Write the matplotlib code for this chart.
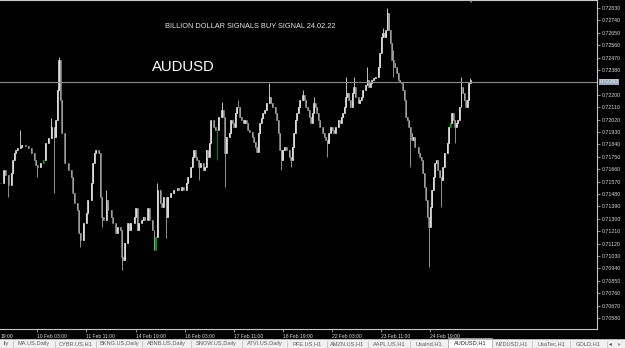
import matplotlib
matplotlib.use("Agg")
import matplotlib.pyplot as plt
from matplotlib.patches import Rectangle

# chart texts
symbol = "AUDUSD"
headline = "BILLION DOLLAR SIGNALS BUY SIGNAL 24.02.22"
last_price = 0.72293

# H1 bars: bar number (hours from first visible bar) and close
bar_hours = [
    0, 2, 3, 5, 7, 8, 9, 10, 11, 13, 14, 16, 18, 20, 22, 23, 24, 26, 28, 29,
    31, 33, 35, 36, 37, 38, 39, 40, 42, 44, 46, 47, 48, 50, 51, 52, 54, 56, 57, 59,
    60, 61, 62, 64, 65, 66, 67, 69, 70, 72, 73, 75, 76, 78, 79, 80, 81, 83, 84, 85,
    87, 88, 89, 90, 92, 93, 94, 96, 97, 99, 100, 101, 102, 104, 105, 106, 108, 109, 111, 113,
    115, 116, 118, 119, 121, 122, 124, 125, 126, 127, 128, 129, 130, 132, 133, 134, 135, 136, 137, 139,
    140, 141, 142, 144, 145, 146, 147, 149, 150, 151, 152, 153, 154, 155, 156, 157, 158, 159, 160, 161,
    162, 164, 165, 166, 167, 168, 169, 170, 171, 172, 173, 175, 176, 177, 178, 179, 180, 181, 182, 183,
    184, 185, 186, 188, 189, 190, 191, 192, 193, 194, 195, 197, 198, 199, 200, 201, 202, 203, 204, 205,
    206, 207, 208, 210, 211, 212, 213, 214, 215, 216, 217, 218, 220, 221, 222, 223, 224, 225, 226, 227,
    228, 229, 230, 231, 233, 234, 235, 236, 238, 239, 240, 241, 242, 243, 244, 246, 247, 248, 249, 250,
    251, 252, 253, 254, 255, 256, 257, 258, 259, 260, 261, 262, 263, 264, 265, 266, 267, 268, 269, 270,
    272, 273, 274, 275, 276, 277, 278, 279, 280, 281, 282, 283, 284, 285, 286, 287, 288, 289, 291, 292,
    293, 294, 295, 296, 297, 298, 299, 300, 301, 302, 303, 304, 305, 306,
]
closes = [
    0.71560, 0.71654, 0.71618, 0.71545, 0.71632, 0.71727, 0.71778, 0.71799, 0.71814, 0.71821,
    0.71836, 0.71828, 0.71814, 0.71778, 0.71727, 0.71690, 0.71676, 0.71705, 0.71727, 0.71850,
    0.71886, 0.71966, 0.71894, 0.72017, 0.72235, 0.72453, 0.72162, 0.71923, 0.71705, 0.71654,
    0.71603, 0.71487, 0.71415, 0.71364, 0.71197, 0.71146, 0.71269, 0.71342, 0.71436, 0.71560,
    0.71705, 0.71778, 0.71799, 0.71778, 0.71458, 0.71313, 0.71291, 0.71436, 0.71364, 0.71313,
    0.71269, 0.71197, 0.71240, 0.71219, 0.71023, 0.71001, 0.71124, 0.71269, 0.71219, 0.71269,
    0.71313, 0.71378, 0.71219, 0.71269, 0.71291, 0.71313, 0.71291, 0.71378, 0.71291, 0.71219,
    0.71073, 0.71168, 0.71509, 0.71415, 0.71386, 0.71458, 0.71313, 0.71458, 0.71487, 0.71509,
    0.71524, 0.71509, 0.71531, 0.71509, 0.71560, 0.71603, 0.71676, 0.71749, 0.71799, 0.71749,
    0.71727, 0.71676, 0.71705, 0.71654, 0.71676, 0.71799, 0.71749, 0.71850, 0.72017, 0.71966,
    0.71944, 0.71944, 0.72039, 0.72090, 0.72039, 0.71778, 0.71894, 0.71923, 0.72017, 0.71995,
    0.71966, 0.72068, 0.72111, 0.72111, 0.72039, 0.72017, 0.71995, 0.72017, 0.71995, 0.71944,
    0.71930, 0.71894, 0.71857, 0.71821, 0.71785, 0.71923, 0.71995, 0.72032, 0.72068, 0.72090,
    0.72140, 0.72184, 0.72140, 0.72111, 0.72111, 0.72068, 0.72017, 0.71923, 0.71799, 0.71727,
    0.71799, 0.71821, 0.71799, 0.71749, 0.71727, 0.71821, 0.71923, 0.72017, 0.72068, 0.72111,
    0.72162, 0.72199, 0.72162, 0.72111, 0.72090, 0.72039, 0.71995, 0.72068, 0.72140, 0.72111,
    0.72068, 0.72017, 0.71966, 0.71923, 0.71894, 0.71872, 0.71850, 0.71923, 0.71966, 0.71944,
    0.71923, 0.71966, 0.72017, 0.71995, 0.72039, 0.72068, 0.72111, 0.72184, 0.72213, 0.72162,
    0.72111, 0.72213, 0.72257, 0.72184, 0.72140, 0.72162, 0.72184, 0.72235, 0.72271, 0.72307,
    0.72257, 0.72286, 0.72307, 0.72322, 0.72329, 0.72402, 0.72503, 0.72619, 0.72648, 0.72619,
    0.72670, 0.72794, 0.72670, 0.72576, 0.72453, 0.72431, 0.72402, 0.72358, 0.72307, 0.72293,
    0.72286, 0.72235, 0.72162, 0.72039, 0.72017, 0.71966, 0.71923, 0.71872, 0.71894, 0.71821,
    0.71778, 0.71749, 0.71727, 0.71632, 0.71531, 0.71436, 0.71313, 0.71240, 0.71386, 0.71509,
    0.71603, 0.71705, 0.71727, 0.71654, 0.71603, 0.71582, 0.71676, 0.71778, 0.71850, 0.71966,
    0.71995, 0.72068, 0.72017, 0.71966, 0.71995, 0.72017, 0.72111, 0.72257, 0.72213, 0.72162,
    0.72111, 0.72162, 0.72286, 0.72307,
]

# longer wicks that stick out of the bodies (bar index -> price)
wick_high = {9: 0.71944, 21: 0.72032, 25: 0.72474, 47: 0.71509, 72: 0.71560, 103: 0.72148,
             113: 0.72162, 131: 0.72286, 151: 0.72235, 158: 0.72184, 177: 0.72329, 182: 0.72329,
             189: 0.72402, 198: 0.72685, 201: 0.72830, 205: 0.72525, 247: 0.72329, 253: 0.72322}
wick_low = {3: 0.71458, 16: 0.71603, 22: 0.71487, 35: 0.71095, 45: 0.71240, 54: 0.70928,
            76: 0.71161, 91: 0.71582, 101: 0.71727, 105: 0.71531, 139: 0.71654, 144: 0.71676,
            166: 0.71749, 205: 0.72329, 216: 0.71676, 227: 0.70950, 235: 0.71386, 243: 0.71850}
green_bars = [18, 71, 101, 240]

price_levels = [0.72830, 0.72740, 0.72650, 0.72560, 0.72470, 0.72380, 0.72200, 0.72110,
                0.72020, 0.71930, 0.71840, 0.71750, 0.71660, 0.71570, 0.71480, 0.71390,
                0.71300, 0.71210, 0.71120, 0.71030, 0.70940, 0.70850, 0.70760, 0.70670, 0.70580]
date_hours = [24, 56, 88, 120, 152, 184, 216, 248, 280]
date_labels = ["10 Feb 03:00", "11 Feb 11:00", "14 Feb 19:00", "16 Feb 03:00", "17 Feb 11:00",
               "18 Feb 19:00", "22 Feb 03:00", "23 Feb 11:00", "24 Feb 19:00"]
tab_names = ["ily", "MA.US,Daily", "CYBR.US,H1", "BKNG.US,Daily", "ABNB.US,Daily", "SNOW.US,Daily",
             "ATVI.US,Daily", "PFE.US,H1", "AMZN.US,H1", "AAPL.US,H1", "UsaInd,H1", "AUDUSD,H1",
             "NZDUSD,H1", "UsaTec,H1", "GOLD,H1"]
active_tab = "AUDUSD,H1"

W, H = 625, 348
fig = plt.figure(figsize=(W / 100, H / 100), dpi=100, facecolor="black")
plt.rcParams["font.family"] = ["Liberation Sans", "DejaVu Sans"]

frame_r, frame_b = 597, 329
ax = fig.add_axes([0, (H - frame_b) / H, frame_r / W, frame_b / H])
ax.set_facecolor("black")

px_per_bar = 1.535
n = len(closes)
opens = [closes[0]] + closes[:-1]
for i in range(n):
    x = bar_hours[i]
    o, c = opens[i], closes[i]
    hi = wick_high.get(i, max(o, c))
    lo = wick_low.get(i, min(o, c))
    if i in green_bars:
        col, wcol = "#00a800", "#00a800"
    elif c > o:
        col, wcol = "#f4f4f4", "#e0e0e0"
    else:
        col, wcol = "#909090", "#a8a8a8"
    ax.vlines(x, lo, hi, color=wcol, lw=0.6)
    ax.bar(x, abs(c - o), bottom=min(o, c), width=0.65, color=col, edgecolor=col, lw=0.4)

ax.axhline(last_price, color="#8a8a8a", lw=0.8)

ax.set_xlim(-0.5 / px_per_bar, (frame_r - 0.5) / px_per_bar)
ax.set_ylim(0.72888 - frame_b * 0.00007258, 0.72888)

ax.spines["left"].set_visible(False)
for s in ["right", "bottom", "top"]:
    ax.spines[s].set_color("#c8c8c8")
    ax.spines[s].set_linewidth(0.8)

ax.yaxis.tick_right()
ax.set_yticks(price_levels, [f"{p:.5f}" for p in price_levels])
ax.tick_params(axis="y", colors="#c8c8c8", labelcolor="#d8d8d8", length=2.5, width=0.5,
               labelsize=3.8, pad=0.6)

ax.set_xticks(date_hours, date_labels)
for lbl in ax.get_xticklabels():
    lbl.set_horizontalalignment("left")
ax.tick_params(axis="x", colors="#c8c8c8", labelcolor="#d8d8d8", length=2.5, width=0.5,
               labelsize=3.6, pad=0.8)
ax.text(1 / frame_r, -0.016, "19:00", transform=ax.transAxes, color="#d8d8d8",
        fontsize=3.6, ha="left", va="top")

# current price box on the right scale
ax.text(1.004, last_price, f"{last_price:.5f}", transform=ax.get_yaxis_transform(),
        fontsize=3.8, color="#eef2f6", va="center", ha="left",
        bbox=dict(boxstyle="square,pad=0.15", fc="#9aa8b8", ec="none"), clip_on=False)

# texts on the chart
fig.text(250 / W, 1 - 26 / H, headline, color="#e4e4e4", fontsize=5.3, ha="center", va="center")
fig.text(152 / W, 1 - 67 / H, symbol, color="white", fontsize=10.7, ha="left", va="center")
fig.text(470 / W, 1 - 2 / H, "\u25bc", color="#9a9a9a", fontsize=3, ha="center", va="center")

# tab strip at the bottom
tab_ax = fig.add_axes([0, 0, 1, 11 / H])
tab_ax.set_xlim(0, W)
tab_ax.set_ylim(H, H - 11)
tab_ax.axis("off")
tab_ax.add_patch(Rectangle((0, 339), W, 9, fc="#f0f0f0", ec="none"))
tab_ax.plot([0, W], [339, 339], color="#a0a0a0", lw=0.5)
tab_left = [-30, 13, 55, 96, 142, 191, 242, 287, 327, 368, 410, 448, 492, 532, 570, 607]
for k, name in enumerate(tab_names):
    x0, x1 = tab_left[k], tab_left[k + 1]
    if name == active_tab:
        tab_ax.add_patch(Rectangle((x0, 337.5), x1 - x0, 10.5, fc="white", ec="#a0a0a0", lw=0.5))
        tab_ax.text((x0 + x1) / 2, 343, name, fontsize=4.1, color="#202020", ha="center", va="center")
    else:
        tab_ax.plot([x1, x1], [340.5, 347], color="#b8b8b8", lw=0.5)
        tab_ax.text(x1 - 4 if k == 0 else (x0 + x1) / 2, 344, name, fontsize=4.1, color="#5a5a5a",
                    ha="right" if k == 0 else "center", va="center")
tab_ax.text(610, 344, "\u25c2", fontsize=4, color="#404040", ha="center", va="center")
tab_ax.text(619, 344, "\u25b8", fontsize=4, color="#909090", ha="center", va="center")

fig.savefig("out.png", dpi=100, facecolor="black")
